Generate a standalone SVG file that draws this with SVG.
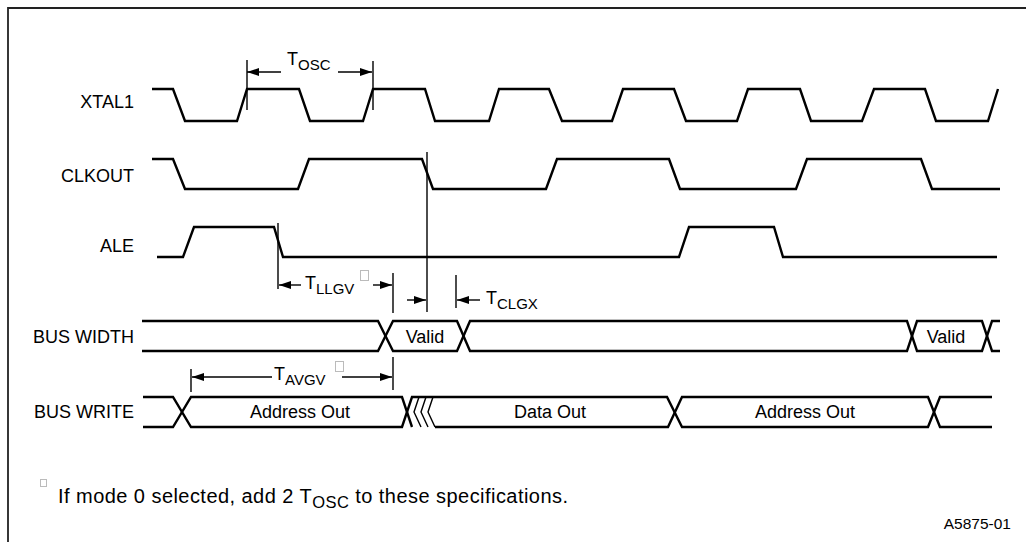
<svg xmlns="http://www.w3.org/2000/svg" width="1026" height="542" viewBox="0 0 1026 542">
<style>
text{font-family:"Liberation Sans",Arial,sans-serif;fill:#000}
.lbl{font-size:18px;text-anchor:end}
.t{font-size:18px}
.sub{font-size:15px}
.c{font-size:18px;text-anchor:middle}
.fn{font-size:20px;letter-spacing:0.45px}
.fnsub{font-size:16.5px}
.wave{fill:none;stroke:#000;stroke-width:2.4;stroke-linejoin:miter}
.mk{fill:none;stroke:#000;stroke-width:1.4}
.arr{fill:none;stroke:#000;stroke-width:1.4;marker-end:url(#ah)}
.tofu{fill:none;stroke:#bbb;stroke-width:1}
.frame{fill:none;stroke:#222;stroke-width:1.8}
</style>
<defs>
<marker id="ah" viewBox="0 0 12 8" refX="12" refY="4" markerWidth="12" markerHeight="8" markerUnits="userSpaceOnUse" orient="auto">
<path d="M0,0 L12,4 L0,8 Z" fill="#000"/>
</marker>
</defs>
<rect width="1026" height="542" fill="#fff"/>
<path class="frame" d="M8,542 V8 H1026"/>

<g id="xtal1">
<text class="lbl" x="134" y="108">XTAL1</text>
<path class="wave" d="M152,89 L173,89 L185,121 L237,121 L247,89 L299,89 L310,121 L363,121 L373,89 L425,89 L435,121 L489,121 L499,89 L549,89 L562,121 L612,121 L623,89 L674,89 L686,121 L737,121 L748,89 L800,89 L811,121 L862,121 L874,89 L925,89 L936,121 L988,121 L998,89"/>
</g>

<g id="clkout">
<text class="lbl" x="134" y="182">CLKOUT</text>
<path class="wave" d="M152,159 L173,159 L185,189 L298,189 L309,159 L422,159 L433,189 L546,189 L557,159 L669,159 L680,189 L796,189 L807,159 L921,159 L932,189 L1000,189"/>
</g>

<g id="ale">
<text class="lbl" x="134" y="252">ALE</text>
<path class="wave" d="M157,257 L183,257 L194,227 L274,227 L283,257 L679,257 L689,227 L774,227 L783,257 L997,257"/>
</g>

<g id="bus-width">
<text class="lbl" x="134" y="343">BUS WIDTH</text>
<path class="wave" d="M142,321 H378 L393,351 H457 L470,321 H907 L917,351 H982 L992,321 H1000"/>
<path class="wave" d="M142,351 H378 L393,321 H457 L470,351 H907 L917,321 H982 L992,351 H1000"/>
<text class="c" x="425" y="343">Valid</text>
<text class="c" x="946" y="343">Valid</text>
</g>

<g id="bus-write">
<text class="lbl" x="134" y="418">BUS WRITE</text>
<path class="wave" d="M143,397 H173 L191,427 H402 L412,397 H667 L682,427 H928 L940,397 H992"/>
<path class="wave" d="M143,427 H173 L191,397 H402 L412,427"/>
<path class="wave" d="M435,427 H668 L682,397 H928 L940,427 H992"/>
<path class="mk" stroke-width="1.6" d="M419,397 L414,412 L421,427 M426,397 L421,412 L428,427 M433,397 L428,412 L435,427"/>
<text class="c" x="300" y="418">Address Out</text>
<text class="c" x="550" y="418">Data Out</text>
<text class="c" x="805" y="418">Address Out</text>
</g>

<g id="connectors">
<path class="mk" d="M247,60 V110 M373,61 V110"/>
<path class="arr" d="M281,72 H247"/>
<path class="arr" d="M338,72 H372"/>
<path class="mk" d="M427,152 V312"/>
<path class="mk" d="M278,223 V289 M393,273 V313"/>
<path class="arr" d="M301,285 H279"/>
<path class="arr" d="M373,285 H392"/>
<rect class="tofu" x="360.5" y="270.5" width="8" height="10"/>
<path class="arr" d="M407,300 H426"/>
<path class="mk" d="M456,275 V308"/>
<path class="arr" d="M480,300 H457"/>
<path class="mk" d="M191,369 V392 M393,357 V390"/>
<path class="arr" d="M272,377 H192"/>
<path class="arr" d="M342,377 H392"/>
<rect class="tofu" x="335.5" y="361.5" width="8" height="10"/>
</g>

<g id="timing-labels">
<text class="t" x="287" y="65">T<tspan class="sub" dy="5">OSC</tspan></text>
<text class="t" x="305" y="289">T<tspan class="sub" dy="5">LLGV</tspan></text>
<text class="t" x="486" y="304">T<tspan class="sub" dy="5">CLGX</tspan></text>
<text class="t" x="274" y="380">T<tspan class="sub" dy="5">AVGV</tspan></text>
</g>

<g id="footnote">
<rect class="tofu" x="40.5" y="479.5" width="6" height="7"/>
<text class="fn" x="58" y="503">If mode 0 selected, add 2 T<tspan class="fnsub" dy="5">OSC</tspan><tspan dy="-5"> to these specifications.</tspan></text>
<text style="font-size:15.5px;text-anchor:end" x="1011" y="529">A5875-01</text>
</g>
</svg>
